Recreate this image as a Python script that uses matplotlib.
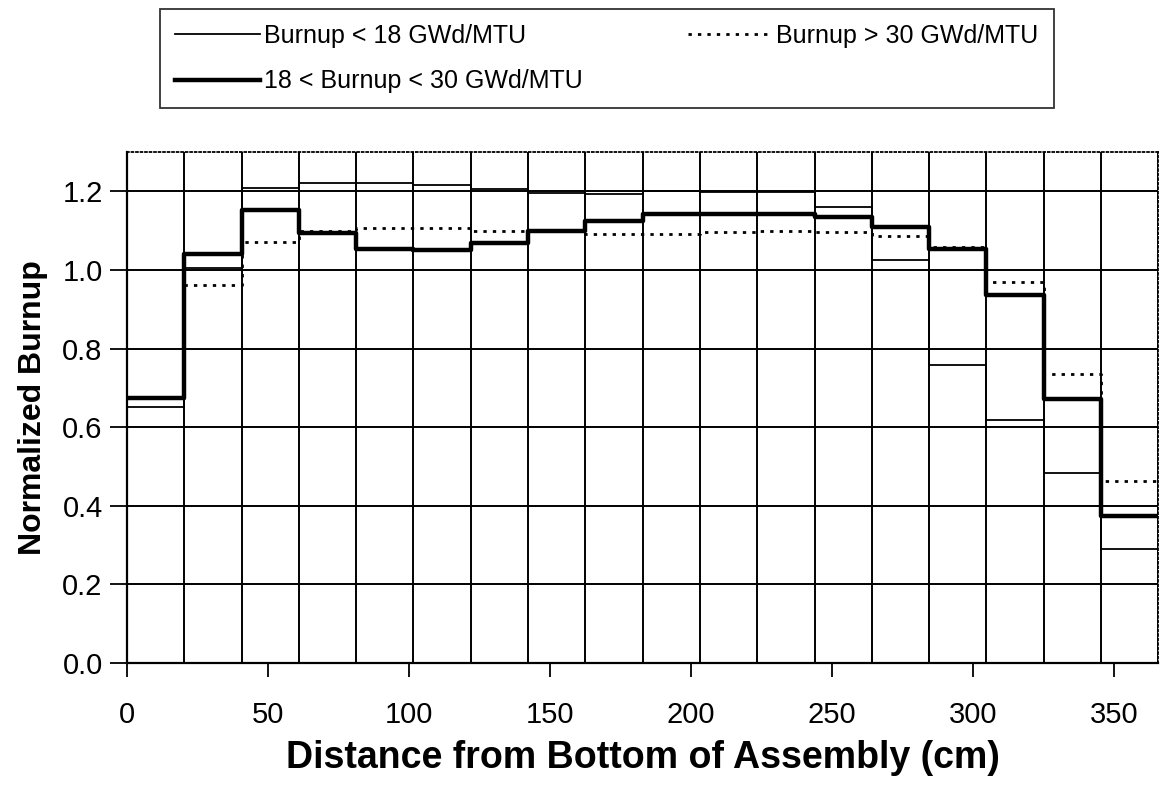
import matplotlib
matplotlib.use("Agg")
import matplotlib.pyplot as plt
from matplotlib.lines import Line2D
import numpy as np

plt.rcParams['font.family'] = ['Liberation Sans', 'DejaVu Sans']

zone_width = 20.32
n_zones = 18
edges = [zone_width * i for i in range(n_zones + 1)]

low = [0.650, 1.005, 1.209, 1.220, 1.220, 1.216, 1.207, 1.195, 1.193, 1.200,
       1.198, 1.198, 1.160, 1.025, 0.757, 0.619, 0.484, 0.290]
mid = [0.673, 1.040, 1.152, 1.094, 1.053, 1.050, 1.069, 1.098, 1.124, 1.143,
       1.143, 1.141, 1.135, 1.109, 1.053, 0.937, 0.671, 0.374]
high = [0.675, 0.961, 1.071, 1.100, 1.107, 1.107, 1.100, 1.100, 1.092, 1.092,
        1.096, 1.098, 1.097, 1.086, 1.059, 0.970, 0.734, 0.462]

labels = ["Burnup < 18 GWd/MTU", "18 < Burnup < 30 GWd/MTU", "Burnup > 30 GWd/MTU"]
xticks = [0, 50, 100, 150, 200, 250, 300, 350]
yticks = [0.0, 0.2, 0.4, 0.6, 0.8, 1.0, 1.2]

fig = plt.figure(figsize=(11.6, 7.85), dpi=100)
ax = fig.add_axes([0.1095, 0.1554, 0.889, 0.651])

for e in edges[1:]:
    ax.axvline(e, color='black', lw=1.4, zorder=1)
for y in yticks[1:]:
    ax.axhline(y, color='black', lw=1.4, zorder=1)

def stepped(vals):
    return list(vals) + [vals[-1]]

ax.plot(edges, stepped(low), drawstyle='steps-post', color='black', lw=1.3, zorder=3)
ax.plot(edges, stepped(mid), drawstyle='steps-post', color='black', lw=3.2, zorder=4)
ax.plot(edges, stepped(high), drawstyle='steps-post', color='black', lw=2.0,
        linestyle=(0, (1.2, 2.2)), zorder=5)

ax.set_xlim(0, edges[-1])
ax.set_ylim(0, 1.3)
ax.set_xticks(xticks)
ax.set_yticks(yticks)
ax.set_yticklabels([f"{v:.1f}" for v in yticks])
ax.tick_params(axis='both', labelsize=21, width=1.3, color='black')
ax.tick_params(axis='x', direction='out', length=10, pad=17)
ax.tick_params(axis='y', direction='out', length=12, pad=5.5)

for s in ['left', 'bottom']:
    ax.spines[s].set_linewidth(1.6)
for s in ['top', 'right']:
    ax.spines[s].set_linestyle((0, (1, 1.5)))
    ax.spines[s].set_linewidth(1.3)

ax.set_xlabel("Distance from Bottom of Assembly (cm)", fontsize=27, fontweight='bold', labelpad=8)
ax.set_ylabel("Normalized Burnup", fontsize=23, fontweight='bold', labelpad=10)

handles = [Line2D([], [], color='black', lw=1.3),
           Line2D([], [], color='black', lw=3.2),
           Line2D([], [], color='black', lw=2.0, linestyle=(0, (1.2, 2.2)))]
leg = fig.legend(handles, labels, loc='upper left', bbox_to_anchor=(0.138, 0.9885),
                 ncol=2, fontsize=18, frameon=True, fancybox=False, edgecolor='black',
                 handlelength=3.4, handletextpad=0.15, columnspacing=4.2,
                 labelspacing=0.85, borderpad=0.6, borderaxespad=0)
leg.get_frame().set_linewidth(1.3)

fig.savefig("out.png", dpi=100)
